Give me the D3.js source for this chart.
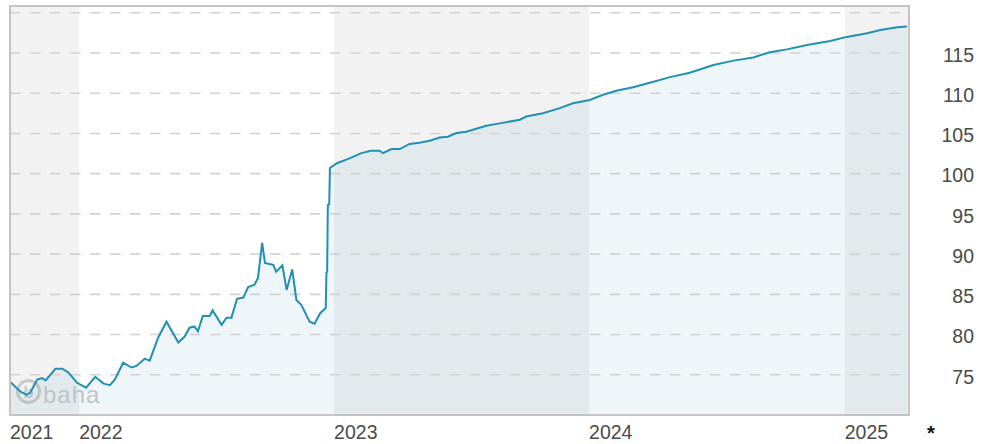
<!DOCTYPE html>
<html lang="en">

<head>
    <meta charset="UTF-8">
    <title>Chart</title>
    <script src="https://d3js.org/d3.v7.min.js"></script>
    <style>
        html,
        body {
            margin: 0;
            background: #ffffff;
        }

        text {
            font-family: "Liberation Sans", Arial, sans-serif;
        }
    </style>
</head>

<body>
    <div id="chart"></div>
    <script>
        // data
        var dates = [
            "2021-09-24", "2021-10-09", "2021-10-18", "2021-10-23", "2021-11-02", "2021-11-09", "2021-11-14",
            "2021-11-28", "2021-12-08", "2021-12-17", "2021-12-29", "2022-01-11", "2022-01-24", "2022-02-05",
            "2022-02-14", "2022-02-21", "2022-03-05", "2022-03-17", "2022-03-24", "2022-04-05", "2022-04-12",
            "2022-04-24", "2022-05-06", "2022-05-23", "2022-06-01", "2022-06-08", "2022-06-15", "2022-06-20",
            "2022-06-27", "2022-07-07", "2022-07-11", "2022-07-24", "2022-07-31", "2022-08-07", "2022-08-15",
            "2022-08-24", "2022-08-31", "2022-09-09", "2022-09-14", "2022-09-20", "2022-09-24", "2022-10-06",
            "2022-10-10", "2022-10-19", "2022-10-25", "2022-11-02", "2022-11-08", "2022-11-15", "2022-11-27",
            "2022-12-04", "2022-12-12", "2022-12-20", "2022-12-21", "2022-12-22", "2022-12-23", "2022-12-25",
            "2022-12-26", "2023-01-05", "2023-01-23", "2023-02-09", "2023-02-23", "2023-03-07", "2023-03-12",
            "2023-03-24", "2023-04-05", "2023-04-19", "2023-05-03", "2023-05-18", "2023-06-01", "2023-06-13",
            "2023-06-25", "2023-07-09", "2023-08-07", "2023-08-26", "2023-09-24", "2023-10-03", "2023-10-27",
            "2023-11-20", "2023-12-09", "2024-01-02", "2024-01-21", "2024-02-09", "2024-03-04", "2024-03-28",
            "2024-04-26", "2024-05-24", "2024-06-27", "2024-07-26", "2024-08-23", "2024-09-16", "2024-10-10",
            "2024-11-08", "2024-12-11", "2025-01-04", "2025-02-02", "2025-02-21", "2025-03-17", "2025-03-31"
        ];
        var prices = [
            74.15, 72.9, 72.5, 72.8, 74.4, 74.6, 74.3,
            75.75, 75.75, 75.25, 74.0, 73.4, 74.75, 73.9,
            73.7, 74.4, 76.5, 75.9, 76.1, 77.0, 76.75,
            79.6, 81.6, 79.0, 79.75, 80.85, 81.0, 80.4,
            82.3, 82.3, 83.0, 81.2, 82.1, 82.1, 84.45,
            84.6, 85.9, 86.2, 87.05, 91.4, 88.9, 88.65,
            87.8, 88.6, 85.55, 88.1, 84.3, 83.7, 81.6,
            81.35, 82.65, 83.3, 87.7, 87.8, 96.1, 96.2,
            100.7, 101.3, 101.9, 102.55, 102.85, 102.85, 102.55,
            103.05, 103.05, 103.7, 103.85, 104.1, 104.5, 104.6,
            105.05, 105.2, 105.95, 106.25, 106.7, 107.1, 107.5,
            108.15, 108.75, 109.15, 109.8, 110.3, 110.75, 111.3,
            112.0, 112.55, 113.5, 114.05, 114.45, 115.1, 115.45,
            116.0, 116.5, 117.0, 117.45, 117.85, 118.2, 118.3
        ];
        var yTicks = [75, 80, 85, 90, 95, 100, 105, 110, 115];
        var gridValues = [75, 80, 85, 90, 95, 100, 105, 110, 115, 120];
        var yearLabels = ["2021", "2022", "2023", "2024", "2025"];
        var shadedYears = ["2021", "2023", "2025"];
        var startDate = "2021-09-24";
        var endDate = "2025-04-03";

        var width = 987;
        var height = 444;
        var plot = { left: 10, right: 909, top: 6, bottom: 415 };

        var parse = d3.timeParse("%Y-%m-%d");
        var data = dates.map(function (d, i) {
            return { date: parse(d), value: prices[i] };
        });

        var x_scale = d3.scaleTime()
            .domain([parse(startDate), parse(endDate)])
            .range([plot.left, plot.right]);

        var y_scale = d3.scaleLinear()
            .domain([70, 120.84])
            .range([plot.bottom, plot.top]);

        var svg = d3.select('#chart')
            .append('svg')
            .attr('width', width)
            .attr('height', height);

        svg.append('clipPath')
            .attr('id', 'clip')
            .append('rect')
            .attr('x', plot.left)
            .attr('y', plot.top)
            .attr('width', plot.right - plot.left)
            .attr('height', plot.bottom - plot.top);

        var g = svg.append('g')
            .attr('clip-path', 'url(#clip)');

        // alternating year bands
        g.selectAll('.band')
            .data(shadedYears)
            .enter().append('rect')
            .attr('class', 'band')
            .attr('x', function (d) {
                return Math.max(plot.left, x_scale(new Date(+d, 0, 1)));
            })
            .attr('width', function (d) {
                var x0 = Math.max(plot.left, x_scale(new Date(+d, 0, 1)));
                var x1 = Math.min(plot.right, x_scale(new Date(+d + 1, 0, 1)));
                return x1 - x0;
            })
            .attr('y', plot.top)
            .attr('height', plot.bottom - plot.top)
            .attr('fill', '#f2f2f2');

        // watermark
        var logo = g.append('g')
            .attr('opacity', 0.9);
        logo.append('circle')
            .attr('cx', 28.5)
            .attr('cy', 391.5)
            .attr('r', 11)
            .attr('fill', 'none')
            .attr('stroke', '#c6c6c6')
            .attr('stroke-width', 3);
        logo.append('text')
            .attr('x', 28.5)
            .attr('y', 398)
            .attr('text-anchor', 'middle')
            .attr('font-family', '"DejaVu Sans", sans-serif')
            .attr('font-size', '17px')
            .attr('font-weight', 'bold')
            .attr('fill', '#c6c6c6')
            .text('b');
        logo.append('text')
            .attr('x', 43)
            .attr('y', 403)
            .attr('font-family', '"DejaVu Sans", sans-serif')
            .attr('font-size', '24px')
            .attr('letter-spacing', '1px')
            .attr('fill', '#c6c6c6')
            .text('baha');

        var area = d3.area()
            .x(function (d) { return x_scale(d.date); })
            .y0(plot.bottom)
            .y1(function (d) { return y_scale(d.value); });

        var line = d3.line()
            .x(function (d) { return x_scale(d.date); })
            .y(function (d) { return y_scale(d.value); });

        g.append('path')
            .datum(data)
            .attr('d', area)
            .attr('fill', '#2a8fb0')
            .attr('fill-opacity', 0.08);

        // dashed grid
        g.selectAll('.grid')
            .data(gridValues)
            .enter().append('line')
            .attr('class', 'grid')
            .attr('x1', plot.left)
            .attr('x2', plot.right)
            .attr('y1', function (d) { return y_scale(d); })
            .attr('y2', function (d) { return y_scale(d); })
            .attr('stroke', '#d2d2d2')
            .attr('stroke-width', 1.6)
            .attr('stroke-dasharray', '10.5,9.5');

        g.append('path')
            .datum(data)
            .attr('d', line)
            .attr('fill', 'none')
            .attr('stroke', '#2190b2')
            .attr('stroke-width', 2);

        // frame
        svg.append('rect')
            .attr('x', plot.left)
            .attr('y', plot.top)
            .attr('width', plot.right - plot.left)
            .attr('height', plot.bottom - plot.top)
            .attr('fill', 'none')
            .attr('stroke', '#c4c4c4')
            .attr('stroke-width', 2);

        // right axis
        var y_axis = d3.axisRight(y_scale)
            .tickValues(yTicks)
            .tickSize(0)
            .tickPadding(0);

        svg.append('g')
            .attr('class', 'y axis')
            .attr('transform', 'translate(974,2)')
            .call(y_axis)
            .call(function (a) { a.select('.domain').remove(); })
            .selectAll('text')
            .attr('text-anchor', 'end')
            .attr('font-family', '"Liberation Sans", Arial, sans-serif')
            .attr('font-size', '19.5px')
            .attr('fill', '#4a4a4a');

        // year labels, left aligned at the start of each year
        svg.selectAll('.year')
            .data(yearLabels)
            .enter().append('text')
            .attr('class', 'year')
            .attr('x', function (d) {
                return Math.max(plot.left, x_scale(new Date(+d, 0, 1)));
            })
            .attr('y', 439)
            .attr('font-size', '19.5px')
            .attr('fill', '#4a4a4a')
            .text(function (d) { return d; });

        svg.append('text')
            .attr('x', 927)
            .attr('y', 440)
            .attr('font-family', '"DejaVu Sans", sans-serif')
            .attr('font-size', '20px')
            .attr('font-weight', 'bold')
            .attr('fill', '#111')
            .text('*');
    </script>
</body>

</html>
